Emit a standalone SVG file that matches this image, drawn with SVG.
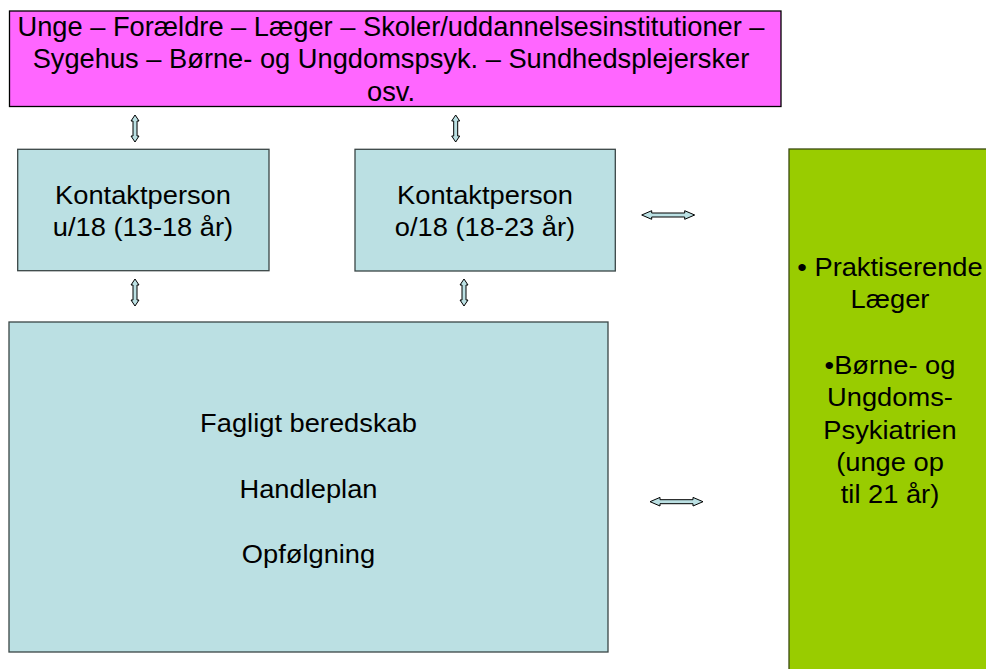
<svg xmlns="http://www.w3.org/2000/svg" width="986" height="669" viewBox="0 0 986 669">
<style>
  .t { font-family: "Liberation Sans", Arial, sans-serif; fill: #000; text-anchor: middle; }
  .big { font-size: 27px; }
  .body { font-size: 25.5px; }
  .box { stroke: #3a4646; stroke-width: 1.3; }
  .blue { fill: #BBE0E3; }
  .arrow { fill: #BBE0E3; stroke: #000; stroke-width: 1; stroke-linejoin: miter; }
</style>
<defs>
  <path id="varrow" d="M0,0 L4,6 L2,6 L2,21 L4,21 L0,27 L-4,21 L-2,21 L-2,6 L-4,6 Z"/>
  <path id="harrow" d="M0,0 L10,-4.3 L10,-2 L43,-2 L43,-4.3 L53,0 L43,4.3 L43,2 L10,2 L10,4.3 Z"/>
</defs>
<rect width="986" height="669" fill="#fff"/>

<g id="top">
  <rect x="9.5" y="11" width="771.5" height="95.5" fill="#FF66FF" stroke="#000" stroke-width="1.3"/>
  <g transform="translate(391,0) scale(1.01,1)">
    <text class="t big" x="0" y="36">Unge – Forældre – Læger – Skoler/uddannelsesinstitutioner –</text>
    <text class="t big" x="0" y="68.5">Sygehus – Børne- og Ungdomspsyk. – Sundhedsplejersker</text>
    <text class="t big" x="0" y="101">osv.</text>
  </g>
</g>

<g id="kontakt-u18">
  <rect class="box blue" x="17.7" y="149.3" width="251.3" height="121.4"/>
  <g transform="translate(143,0) scale(1.07,1)">
    <text class="t body" x="0" y="204.3">Kontaktperson</text>
    <text class="t body" x="0" y="235.7">u/18 (13-18 år)</text>
  </g>
</g>

<g id="kontakt-o18">
  <rect class="box blue" x="355" y="149.3" width="260.3" height="121.7"/>
  <g transform="translate(485,0) scale(1.07,1)">
    <text class="t body" x="0" y="204.3">Kontaktperson</text>
    <text class="t body" x="0" y="235.7">o/18 (18-23 år)</text>
  </g>
</g>

<g id="beredskab">
  <rect class="box blue" x="9" y="322" width="599" height="330"/>
  <g transform="translate(308.5,0) scale(1.07,1)">
    <text class="t body" x="0" y="431.7">Fagligt beredskab</text>
    <text class="t body" x="0" y="497.7">Handleplan</text>
    <text class="t body" x="0" y="563.3">Opfølgning</text>
  </g>
</g>

<g id="eksterne">
  <rect x="789" y="149" width="210" height="530" fill="#99CC00" stroke="#3a4a10" stroke-width="1.3"/>
  <g transform="translate(890,0) scale(1.07,1)">
    <text class="t body" x="0" y="276">• Praktiserende</text>
    <text class="t body" x="0" y="308.5">Læger</text>
    <text class="t body" x="0" y="374.5">•Børne- og</text>
    <text class="t body" x="0" y="406.5">Ungdoms-</text>
    <text class="t body" x="0" y="439">Psykiatrien</text>
    <text class="t body" x="0" y="471.5">(unge op</text>
    <text class="t body" x="0" y="503.5">til 21 år)</text>
  </g>
</g>

<g id="connectors">
  <use href="#varrow" class="arrow" x="135" y="115"/>
  <use href="#varrow" class="arrow" x="455.7" y="115"/>
  <use href="#varrow" class="arrow" x="135" y="279"/>
  <use href="#varrow" class="arrow" x="464" y="279"/>
  <use href="#harrow" class="arrow" x="641.7" y="215"/>
  <use href="#harrow" class="arrow" x="650" y="501.7"/>
</g>
</svg>
